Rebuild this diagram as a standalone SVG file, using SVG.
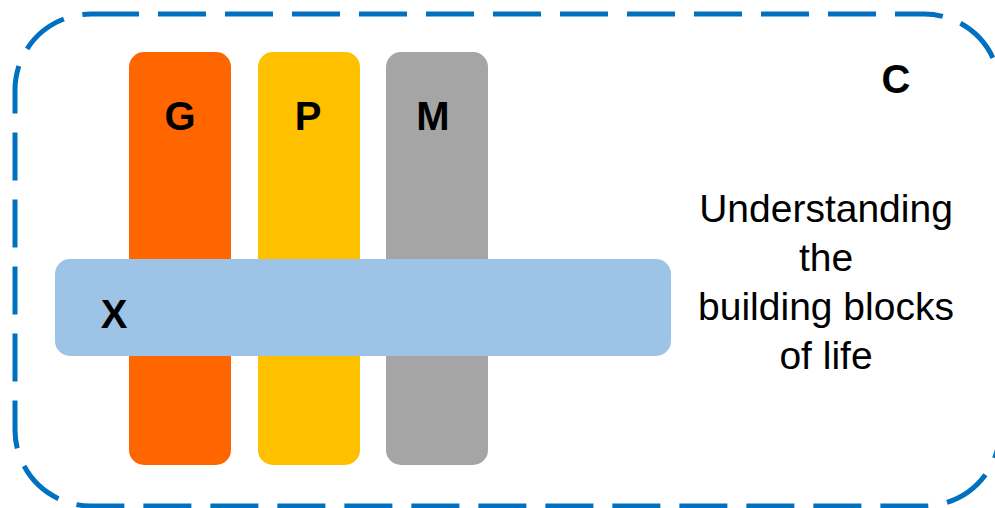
<svg xmlns="http://www.w3.org/2000/svg" width="995" height="508" viewBox="0 0 995 508">
  <style>
    .frame { fill: none; stroke: #0070C0; stroke-width: 5; stroke-dasharray: 48 19; }
    .label { font-family: "Liberation Sans", Arial, sans-serif; font-weight: bold; font-size: 40px; fill: #000; text-anchor: middle; }
    .caption { font-family: "Liberation Sans", Arial, sans-serif; font-size: 39px; fill: #000; text-anchor: middle; }
  </style>
  <rect width="995" height="508" fill="#fff"/>

  <!-- outer dashed container -->
  <g id="container">
    <rect class="frame" x="15" y="14" width="985" height="492" rx="76" ry="76"/>
    <text class="label" x="896" y="93">C</text>
  </g>

  <!-- vertical columns -->
  <g id="col-g">
    <rect x="129" y="52" width="102" height="413" rx="15" fill="#FF6600"/>
    <text class="label" x="180" y="130">G</text>
  </g>
  <g id="col-p">
    <rect x="258" y="52" width="102" height="413" rx="15" fill="#FFC000"/>
    <text class="label" x="308" y="130">P</text>
  </g>
  <g id="col-m">
    <rect x="386" y="52" width="102" height="413" rx="15" fill="#A5A5A5"/>
    <text class="label" x="433" y="130">M</text>
  </g>

  <!-- horizontal band across the columns -->
  <g id="band-x">
    <rect x="55" y="259" width="616" height="97" rx="15" fill="#9DC3E6"/>
    <text class="label" x="114" y="328">X</text>
  </g>

  <g id="caption">
    <text class="caption" x="826" y="222">Understanding</text>
    <text class="caption" x="826" y="271">the</text>
    <text class="caption" x="826" y="320">building blocks</text>
    <text class="caption" x="826" y="369">of life</text>
  </g>

  <g id="connectors"/>
</svg>
